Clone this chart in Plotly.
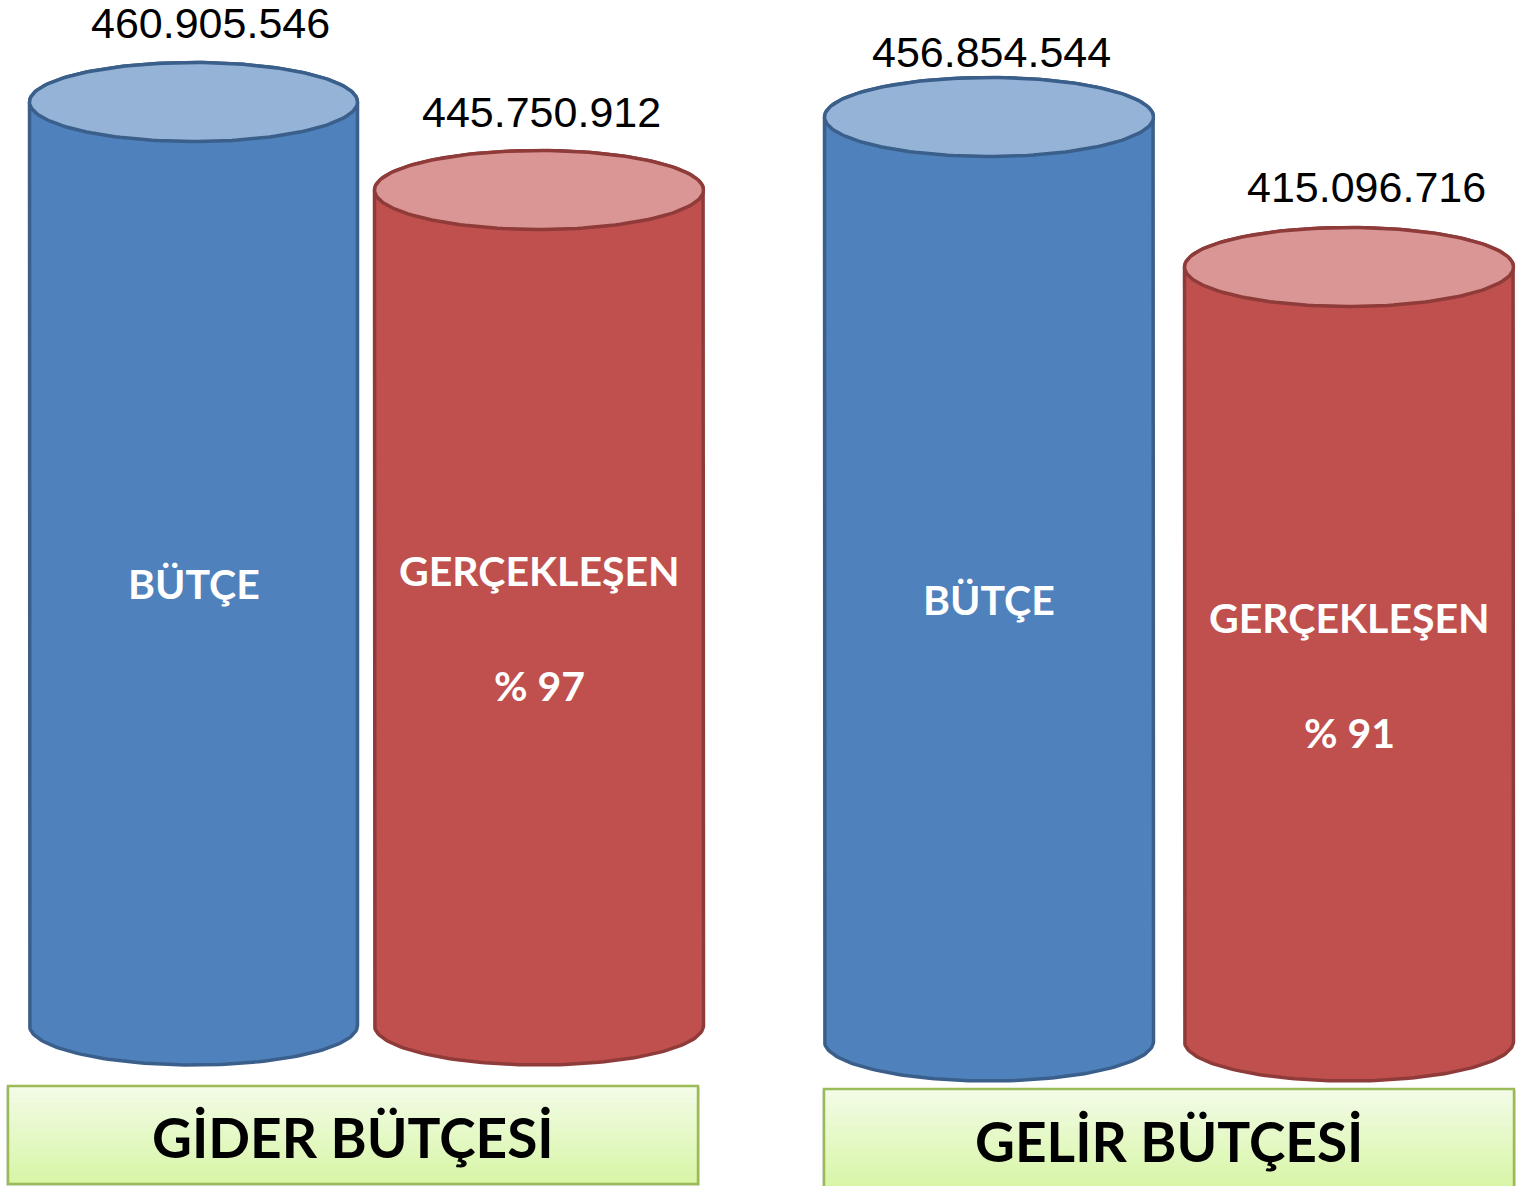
import numpy as np
import plotly.graph_objects as go

# ---------------- data ----------------
groups = ["GİDER BÜTÇESİ", "GELİR BÜTÇESİ"]
series = ["BÜTÇE", "GERÇEKLEŞEN"]
gider_values = [460905546, 445750912]
gelir_values = [456854544, 415096716]
percent_labels = ["% 97", "% 91"]

# ---------------- layout constants (pixels) ----------------
W, H = 1517, 1186
group_layout = [
    dict(dom=(0, 758.5), centers=(193.5, 539.0), tops=(102, 190), base=1025.5,
         rx=(164.0, 164.5), label_shift=((17, 79), (2.5, 78)), box=(8, 1086, 698, 1184)),
    dict(dom=(758.5, 1517), centers=(989.0, 1349.0), tops=(117, 267), base=1041.5,
         rx=(164.5, 164.5), label_shift=((2, 65), (17.5, 80)), box=(824, 1089, 1514, 1188)),
]
RY = 39.5  # ellipse half-height in px
BODY = ["#4F81BD", "#C0504D"]
TOP = ["#95B3D7", "#D99694"]
EDGE = ["#3A5F8B", "#8E3B39"]

fig = go.Figure()
annotations = []
shapes = []
t = np.linspace(0, np.pi, 90)

for gi, (gname, vals) in enumerate(zip(groups, [gider_values, gelir_values])):
    gl = group_layout[gi]
    v = [x / 1e6 for x in vals]
    k = (gl["tops"][1] - gl["tops"][0]) / (v[0] - v[1])  # px per unit
    ymax = v[0] + gl["tops"][0] / k
    ymin = ymax - H / k
    base = ymax - gl["base"] / k
    ry = RY / k
    d0, d1 = gl["dom"]
    c0, c1 = gl["centers"]
    sx = c1 - c0
    xmin = -(c0 - d0) / sx
    xmax = xmin + (d1 - d0) / sx
    xa = "x" if gi == 0 else "x2"
    ya = "y" if gi == 0 else "y2"

    for si in range(2):
        cx = si
        rx = gl["rx"][si] / sx
        top = v[si]
        bx = np.concatenate([[cx - rx, cx - rx],
                             cx + rx * np.cos(np.pi + t),
                             [cx + rx],
                             cx + rx * np.cos(t)])
        by = np.concatenate([[top, base],
                             base + ry * np.sin(np.pi + t),
                             [top],
                             top + ry * np.sin(t)])
        fig.add_trace(go.Scatter(x=bx, y=by, mode="lines", fill="toself",
                                 fillcolor=BODY[si], line=dict(color=EDGE[si], width=3.5),
                                 xaxis=xa, yaxis=ya, hoverinfo="skip", showlegend=False))
        tt = np.linspace(0, 2 * np.pi, 180)
        fig.add_trace(go.Scatter(x=cx + rx * np.cos(tt), y=top + ry * np.sin(tt),
                                 mode="lines", fill="toself", fillcolor=TOP[si],
                                 line=dict(color=EDGE[si], width=3.5),
                                 xaxis=xa, yaxis=ya, hoverinfo="skip", showlegend=False,
                                 name=f"{gname} {series[si]}"))
        xs, ys = gl["label_shift"][si]
        annotations.append(dict(x=cx, y=top, xref=xa, yref=ya, xshift=xs, yshift=ys,
                                xanchor="center", yanchor="middle",
                                text=f"{vals[si]:,}".replace(",", "."), showarrow=False,
                                font=dict(family="Liberation Sans, Arial", size=43, color="black")))
        mid = (top + base) / 2
        lab_font = dict(family="Lato", size=41, color="white")
        if si == 0:
            annotations.append(dict(x=cx, y=mid, xref=xa, yref=ya, yshift=-20,
                                    xanchor="center", yanchor="middle",
                                    text=f"<b>{series[0]}</b>", showarrow=False, font=lab_font))
        else:
            annotations.append(dict(x=cx, y=mid, xref=xa, yref=ya, yshift=37,
                                    xanchor="center", yanchor="middle",
                                    text=f"<b>{series[1]}</b>", showarrow=False, font=lab_font))
            annotations.append(dict(x=cx, y=mid, xref=xa, yref=ya, yshift=-78,
                                    xanchor="center", yanchor="middle",
                                    text=f"<b>{percent_labels[gi]}</b>", showarrow=False,
                                    font=lab_font))

    ax = dict(range=[xmin, xmax], domain=[d0 / W, d1 / W], visible=False, fixedrange=True)
    ay = dict(range=[ymin, ymax], domain=[0, 1], visible=False, fixedrange=True)
    if gi == 0:
        fig.update_layout(xaxis=dict(ax, anchor="y"), yaxis=dict(ay, anchor="x"))
    else:
        fig.update_layout(xaxis2=dict(ax, anchor="y2"), yaxis2=dict(ay, anchor="x2"))

    # footer box with vertical gradient
    bx0, by0, bx1, by1 = gl["box"]
    shapes.append(dict(type="rect", xref="paper", yref="paper", layer="below",
                       x0=(bx0 - 2) / W, x1=(bx1 + 2) / W, y0=1 - (by1 + 2) / H, y1=1 - (by0 + 1) / H,
                       fillcolor="rgba(0,0,0,0.12)", line=dict(width=0)))
    n = 40
    c_top = np.array([0xF3, 0xFC, 0xE8])
    c_bot = np.array([0xD8, 0xF6, 0xA6])
    for j in range(n):
        f = j / (n - 1)
        c = (c_top * (1 - f) + c_bot * f).astype(int)
        ya0 = by0 + (by1 - by0) * j / n
        ya1 = by0 + (by1 - by0) * (j + 1) / n + 0.6
        shapes.append(dict(type="rect", xref="paper", yref="paper", layer="below",
                           x0=bx0 / W, x1=bx1 / W, y0=1 - ya1 / H, y1=1 - ya0 / H,
                           fillcolor=f"rgb({c[0]},{c[1]},{c[2]})", line=dict(width=0)))
    shapes.append(dict(type="rect", xref="paper", yref="paper", layer="below",
                       x0=bx0 / W, x1=bx1 / W, y0=1 - by1 / H, y1=1 - by0 / H,
                       fillcolor="rgba(0,0,0,0)", line=dict(color="#9BBB59", width=2.5)))
    annotations.append(dict(x=(bx0 + bx1) / 2 / W, y=1 - ((by0 + by1) / 2 + 2) / H,
                            xref="paper", yref="paper", xanchor="center", yanchor="middle",
                            text=f"<b>{gname}</b>", showarrow=False,
                            font=dict(family="Lato", size=55, color="black")))

fig.update_layout(width=W, height=H, margin=dict(l=0, r=0, t=0, b=0),
                  paper_bgcolor="white", plot_bgcolor="rgba(0,0,0,0)",
                  annotations=annotations, shapes=shapes, showlegend=False)
fig.write_html("out.html", config={"displayModeBar": False},
               post_script="document.body.style.margin='0';document.body.style.overflow='hidden';")
